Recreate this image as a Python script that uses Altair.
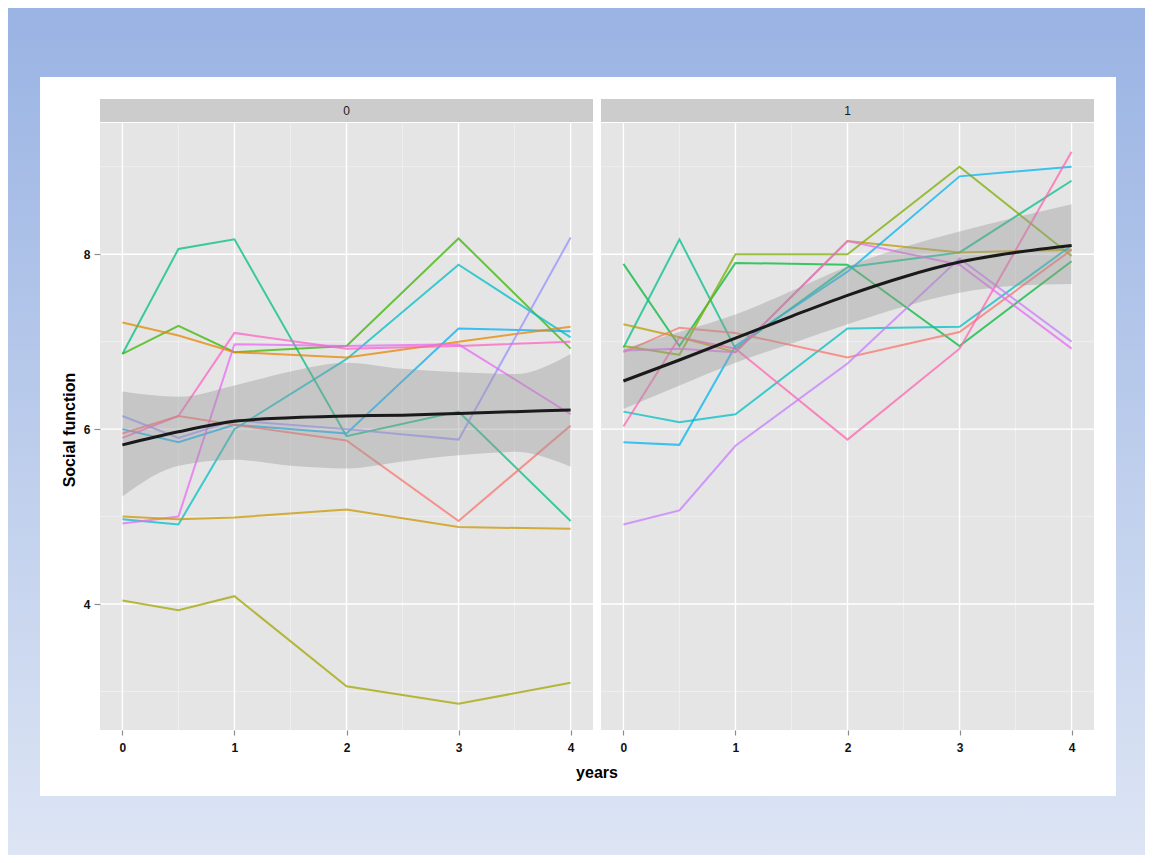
import altair as alt
import pandas as pd

# ---------------- data ----------------
times = [0, 0.5, 1, 2, 3, 4]
panel_labels = ["0", "1"]

# panel "0" subjects (value at each time point)
p0_ids = ["a01", "a02", "a03", "a04", "a05", "a06", "a07", "a08", "a09", "a10", "a11"]
p0_colors = ["#00BF7D", "#39B600", "#00BFC4", "#00B0F6", "#E58700", "#FF61C3",
             "#E76BF3", "#9590FF", "#F8766D", "#C99800", "#A3A500"]
a01 = [6.86, 8.06, 8.17, 5.92, 6.20, 4.95]
a02 = [6.86, 7.18, 6.88, 6.95, 8.18, 6.92]
a03 = [4.97, 4.91, 6.00, 6.80, 7.88, 7.05]
a04 = [6.00, 5.85, 6.05, 5.95, 7.15, 7.12]
a05 = [7.22, 7.07, 6.88, 6.82, 7.00, 7.17]
a06 = [5.90, 6.15, 7.10, 6.92, 6.95, 7.00]
a07 = [4.92, 5.00, 6.97, 6.95, 6.97, 6.17]
a08 = [6.15, 5.90, 6.10, 6.00, 5.88, 8.19]
a09 = [5.95, 6.15, 6.05, 5.87, 4.95, 6.04]
a10 = [5.00, 4.97, 4.99, 5.08, 4.88, 4.86]
a11 = [4.04, 3.93, 4.09, 3.06, 2.86, 3.10]
p0_values = [a01, a02, a03, a04, a05, a06, a07, a08, a09, a10, a11]

# panel "1" subjects
p1_ids = ["b01", "b02", "b03", "b04", "b05", "b06", "b07", "b08", "b09", "b10"]
p1_colors = ["#00BA38", "#00C08B", "#7CAE00", "#B79F00", "#00B4F0", "#00BFC4",
             "#F8766D", "#FF64B0", "#E76BF3", "#C77CFF"]
b01 = [7.89, 6.95, 7.90, 7.88, 6.95, 7.92]
b02 = [6.93, 8.17, 6.92, 7.85, 8.02, 8.84]
b03 = [6.95, 6.85, 8.00, 8.00, 9.00, 7.98]
b04 = [7.20, 7.05, 6.88, 8.15, 8.02, 8.05]
b05 = [5.85, 5.82, 6.95, 7.80, 8.89, 9.00]
b06 = [6.20, 6.08, 6.17, 7.15, 7.17, 8.10]
b07 = [6.88, 7.16, 7.10, 6.82, 7.11, 8.05]
b08 = [6.03, 7.05, 6.92, 5.88, 6.92, 9.17]
b09 = [6.90, 6.92, 6.88, 8.15, 7.88, 6.92]
b10 = [4.91, 5.07, 5.81, 6.75, 7.95, 7.00]
p1_values = [b01, b02, b03, b04, b05, b06, b07, b08, b09, b10]

# smoother (fit and confidence band)
smooth_t = [0, 0.5, 1, 1.5, 2, 2.5, 3, 3.5, 4]
fit0 = [5.82, 5.97, 6.09, 6.13, 6.15, 6.16, 6.18, 6.20, 6.22]
lo0 = [5.23, 5.58, 5.65, 5.58, 5.55, 5.63, 5.70, 5.74, 5.57]
hi0 = [6.43, 6.37, 6.50, 6.66, 6.76, 6.69, 6.65, 6.63, 6.86]
fit1 = [6.55, 6.79, 7.04, 7.29, 7.53, 7.74, 7.91, 8.02, 8.10]
lo1 = [6.23, 6.50, 6.76, 6.98, 7.20, 7.40, 7.56, 7.64, 7.66]
hi1 = [6.92, 7.11, 7.31, 7.58, 7.86, 8.08, 8.26, 8.42, 8.57]

x_ticks = [0, 1, 2, 3, 4]
x_minor = [0.5, 1.5, 2.5, 3.5]
y_ticks = [4, 6, 8]
y_minor = [3, 5, 7, 9]

# ---------------- layout ----------------
W, H = 493, 607
FONT = "Liberation Sans"
x_scale = alt.Scale(domain=[-0.2, 4.2], nice=False, zero=False)
y_scale = alt.Scale(domain=[2.56, 9.5], nice=False, zero=False)


def long_df(ids, values):
    rows = []
    for sid, vals in zip(ids, values):
        for t, v in zip(times, vals):
            rows.append({"id": sid, "t": t, "v": v})
    return pd.DataFrame(rows)


one = pd.DataFrame({"k": [0]})


def panel(label, ids, colors, values, fit, lo, hi, first):
    x_axis = alt.Axis(values=x_ticks, format="d", title=None, grid=False, domain=False,
                      tickSize=5, tickColor="#8C8C8C", tickWidth=1.2, labelFont=FONT,
                      labelFontSize=12, labelColor="#111111", labelPadding=7,
                      labelFontWeight="bold", zindex=1)
    if first:
        y_axis = alt.Axis(values=y_ticks, format="d", title=None, grid=False, domain=False,
                          tickSize=6, tickColor="#8C8C8C", tickWidth=1.2, labelFont=FONT,
                          labelFontSize=12, labelColor="#111111", labelPadding=4,
                          labelFontWeight="bold", zindex=1)
    else:
        y_axis = None

    layers = []
    if first:
        grad = alt.LinearGradient(
            gradient="linear",
            stops=[alt.GradientStop(color="#99B3E3", offset=0),
                   alt.GradientStop(color="#DDE5F4", offset=1)],
            x1=0, x2=0, y1=0, y2=1,
        )
        layers.append(alt.Chart(one).mark_rect(fill=grad).encode(
            x=alt.value(-92), x2=alt.value(1045), y=alt.value(-115), y2=alt.value(732)))
        layers.append(alt.Chart(one).mark_rect(fill="white").encode(
            x=alt.value(-60), x2=alt.value(1016), y=alt.value(-46), y2=alt.value(673)))
    # panel background and strip
    layers.append(alt.Chart(one).mark_rect(fill="#E5E5E5").encode(
        x=alt.value(0), x2=alt.value(W), y=alt.value(0), y2=alt.value(H)))
    layers.append(alt.Chart(one).mark_rect(fill="#CCCCCC").encode(
        x=alt.value(0), x2=alt.value(W), y=alt.value(-24), y2=alt.value(-1)))
    layers.append(alt.Chart(pd.DataFrame({"s": [label]})).mark_text(
        font=FONT, fontSize=12, color="#1A1A1A", baseline="middle", align="center"
    ).encode(x=alt.value(W / 2), y=alt.value(-12), text="s:N"))

    # grid lines
    layers.append(alt.Chart(pd.DataFrame({"g": x_minor})).mark_rule(
        color="#F2F2F2", strokeWidth=0.8).encode(
        x=alt.X("g:Q", scale=x_scale, axis=x_axis)))
    layers.append(alt.Chart(pd.DataFrame({"g": y_minor})).mark_rule(
        color="#F2F2F2", strokeWidth=0.8).encode(
        y=alt.Y("g:Q", scale=y_scale, axis=y_axis)))
    layers.append(alt.Chart(pd.DataFrame({"g": x_ticks})).mark_rule(
        color="#FFFFFF", strokeWidth=1.4).encode(
        x=alt.X("g:Q", scale=x_scale, axis=x_axis)))
    layers.append(alt.Chart(pd.DataFrame({"g": y_ticks})).mark_rule(
        color="#FFFFFF", strokeWidth=1.4).encode(
        y=alt.Y("g:Q", scale=y_scale, axis=y_axis)))

    df = long_df(ids, values)
    layers.append(alt.Chart(df).mark_line(strokeWidth=2, opacity=0.75).encode(
        x=alt.X("t:Q", scale=x_scale, axis=x_axis),
        y=alt.Y("v:Q", scale=y_scale, axis=y_axis),
        color=alt.Color("id:N", scale=alt.Scale(domain=ids, range=colors), legend=None),
        detail="id:N",
    ))

    sm = pd.DataFrame({"t": smooth_t, "fit": fit, "lo": lo, "hi": hi})
    layers.append(alt.Chart(sm).mark_area(color="#999999", opacity=0.4,
                                          interpolate="monotone").encode(
        x=alt.X("t:Q", scale=x_scale, axis=x_axis),
        y=alt.Y("lo:Q", scale=y_scale, axis=y_axis), y2="hi:Q"))
    layers.append(alt.Chart(sm).mark_line(color="#1A1A1A", strokeWidth=3,
                                          interpolate="monotone").encode(
        x=alt.X("t:Q", scale=x_scale, axis=x_axis),
        y=alt.Y("fit:Q", scale=y_scale, axis=y_axis)))

    if first:
        layers.append(alt.Chart(pd.DataFrame({"s": ["years"]})).mark_text(
            font=FONT, fontSize=16, fontWeight="bold", color="black",
            align="center", baseline="middle").encode(
            x=alt.value(497), y=alt.value(650), text="s:N"))
        layers.append(alt.Chart(pd.DataFrame({"s": ["Social function"]})).mark_text(
            font=FONT, fontSize=16, fontWeight="bold", color="black", angle=270,
            align="center", baseline="middle").encode(
            x=alt.value(-30), y=alt.value(307), text="s:N"))

    return alt.layer(*layers).properties(width=W, height=H)


left = panel(panel_labels[0], p0_ids, p0_colors, p0_values, fit0, lo0, hi0, True)
right = panel(panel_labels[1], p1_ids, p1_colors, p1_values, fit1, lo1, hi1, False)

chart = alt.hconcat(left, right, spacing=8, bounds="flush").resolve_scale(
    color="independent", x="independent", y="independent"
).properties(padding=0).configure_view(stroke=None)

chart.save("out.html", embed_options={"renderer": "svg", "actions": False})
